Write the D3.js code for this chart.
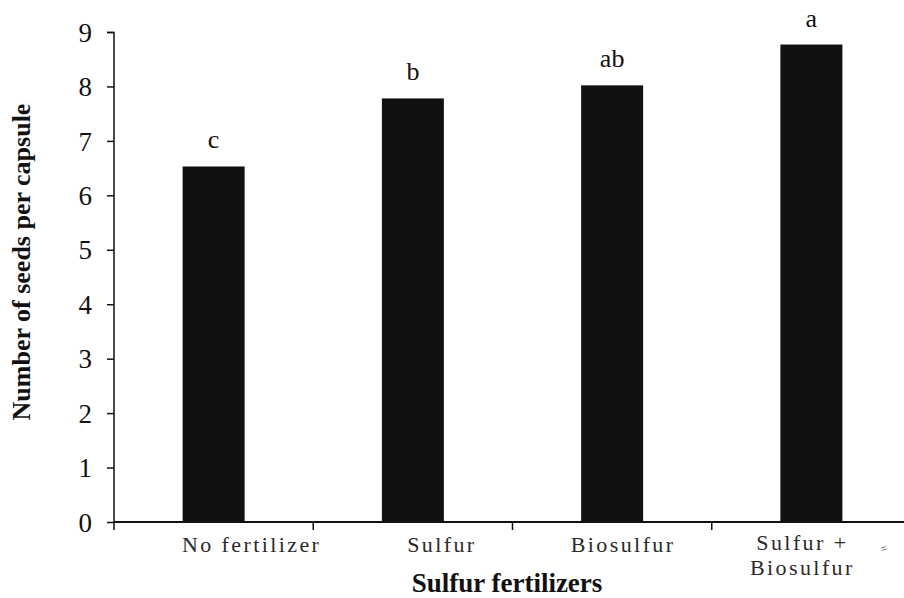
<!DOCTYPE html>
<html>
<head>
<meta charset="utf-8">
<script src="https://cdn.jsdelivr.net/npm/d3@7"></script>
<style>
  body { margin: 0; background: #fff; }
  svg text { font-family: "Liberation Serif", "Times New Roman", serif; fill: #111; }
</style>
</head>
<body>
<svg width="904" height="598"></svg>
<script>
const categories = ['No fertilizer', 'Sulfur', 'Biosulfur', 'Sulfur +\nBiosulfur'];
const values = [6.53, 7.78, 8.02, 8.77];
const letters = ['c', 'b', 'ab', 'a'];
const yTicks = [0, 1, 2, 3, 4, 5, 6, 7, 8, 9];

const svg = d3.select('svg');
const margin = { top: 32, left: 114, bottom: 76 };
const plotW = 797;
const plotH = 598 - margin.top - margin.bottom;

const x = d3.scaleBand().domain(categories).range([0, plotW]).paddingInner(0).paddingOuter(0);
const y = d3.scaleLinear().domain([0, 9]).range([plotH, 0]);

const g = svg.append('g').attr('transform', `translate(${margin.left},${margin.top})`);

// bars
g.selectAll('rect.bar')
  .data(values)
  .join('rect')
  .attr('class', 'bar')
  .attr('x', (d, i) => x(categories[i]) + x.bandwidth() / 2 - 31)
  .attr('width', 62)
  .attr('y', d => y(d))
  .attr('height', d => y(0) - y(d))
  .attr('fill', '#111');

// significance letters
g.selectAll('text.letter')
  .data(values)
  .join('text')
  .attr('class', 'letter')
  .attr('x', (d, i) => x(categories[i]) + x.bandwidth() / 2)
  .attr('y', d => y(d) - 18)
  .attr('text-anchor', 'middle')
  .style('font-size', '26px')
  .text((d, i) => letters[i]);

// y axis
const yAxis = g.append('g')
  .call(d3.axisLeft(y).tickValues(yTicks).tickSize(7).tickPadding(15).tickFormat(d3.format('d')));
yAxis.select('.domain').attr('stroke', '#111').attr('stroke-width', 1.5).attr('d', `M-7,0.5H0V${plotH}`);
yAxis.selectAll('.tick line').attr('stroke', '#111').attr('stroke-width', 1.5);
yAxis.selectAll('.tick text').style('font-size', '27px').attr('fill', '#111').attr('dy', '0.34em');

// x axis with ticks at category boundaries
const xAxisG = g.append('g').attr('transform', `translate(0,${plotH})`);
xAxisG.append('line')
  .attr('x1', 0).attr('x2', plotW)
  .attr('stroke', '#111').attr('stroke-width', 2);
xAxisG.selectAll('line.tk')
  .data(categories)
  .join('line')
  .attr('class', 'tk')
  .attr('x1', d => x(d)).attr('x2', d => x(d))
  .attr('y1', 0).attr('y2', 8)
  .attr('stroke', '#111').attr('stroke-width', 1.5);

// category labels sit a little off-centre in the original
const labelShift = [38, 29, 11, -9];
xAxisG.selectAll('text.cat')
  .data(categories)
  .join('text')
  .attr('class', 'cat')
  .attr('text-anchor', 'middle')
  .attr('transform', (d, i) => `translate(${x(d) + x.bandwidth() / 2 + labelShift[i]},${d.includes('\n') ? 28 : 30})`)
  .style('font-size', '22px')
  .style('letter-spacing', '2.4px')
  .style('fill', '#2a2a2a')
  .each(function (d) {
    const lines = d.split('\n');
    d3.select(this).selectAll('tspan')
      .data(lines)
      .join('tspan')
      .attr('x', 0)
      .attr('dy', (l, i) => i === 0 ? 0 : 25)
      .text(l => l);
  });

// small stray mark right of the last label
svg.append('text')
  .attr('transform', 'translate(885,552) rotate(-20)')
  .attr('text-anchor', 'middle')
  .style('font-size', '11px')
  .text('=');

// axis titles
svg.append('text')
  .attr('x', 507).attr('y', 592)
  .attr('text-anchor', 'middle')
  .style('font-size', '27px').style('font-weight', 'bold')
  .text('Sulfur fertilizers');

svg.append('text')
  .attr('transform', `translate(30,262) rotate(-90)`)
  .attr('text-anchor', 'middle')
  .style('font-size', '26px').style('font-weight', 'bold')
  .text('Number of seeds per capsule');
</script>
</body>
</html>
